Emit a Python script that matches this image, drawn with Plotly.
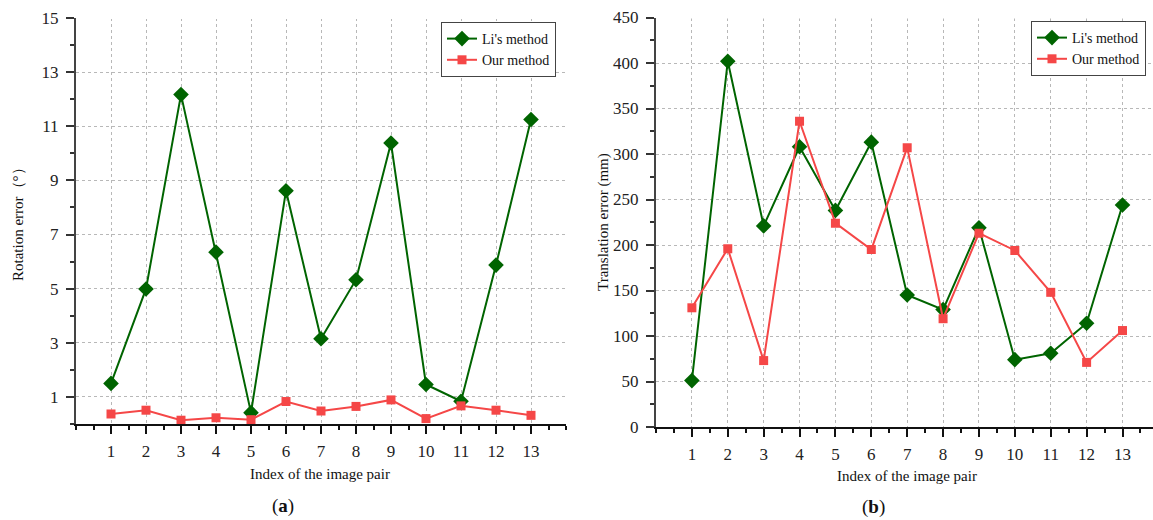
import plotly.graph_objects as go

idx = list(range(1, 14))
li_rot = [1.50, 4.99, 12.17, 6.35, 0.42, 8.62, 3.15, 5.33, 10.38, 1.46, 0.84, 5.87, 11.25]
our_rot = [0.37, 0.51, 0.14, 0.23, 0.16, 0.83, 0.48, 0.65, 0.89, 0.20, 0.67, 0.51, 0.32]
li_trans = [51, 402, 221, 308, 238, 313, 145, 129, 219, 74, 81, 114, 244]
our_trans = [131, 196, 73, 336, 224, 195, 307, 119, 213, 194, 148, 71, 106]
names = ["Li's method", "Our method"]

GREEN = "#006400"
RED = "#f54747"
FONT = "Liberation Serif"
W, H = 1153, 520

def px_x(p):
    return p / W

def px_y(p):
    return 1 - p / H

fig = go.Figure()
fig.add_trace(go.Scatter(x=idx, y=li_rot, name=names[0], mode="lines+markers",
                         line=dict(color=GREEN, width=2),
                         marker=dict(symbol="diamond", size=12, color=GREEN),
                         xaxis="x", yaxis="y", legend="legend"))
fig.add_trace(go.Scatter(x=idx, y=our_rot, name=names[1], mode="lines+markers",
                         line=dict(color=RED, width=2),
                         marker=dict(symbol="square", size=9, color=RED),
                         xaxis="x", yaxis="y", legend="legend"))
fig.add_trace(go.Scatter(x=idx, y=li_trans, name=names[0], mode="lines+markers",
                         line=dict(color=GREEN, width=2),
                         marker=dict(symbol="diamond", size=12, color=GREEN),
                         xaxis="x2", yaxis="y2", legend="legend2"))
fig.add_trace(go.Scatter(x=idx, y=our_trans, name=names[1], mode="lines+markers",
                         line=dict(color=RED, width=2),
                         marker=dict(symbol="square", size=9, color=RED),
                         xaxis="x2", yaxis="y2", legend="legend2"))

grid = dict(showgrid=True, gridcolor="#b8b8b8", gridwidth=1, griddash="dot")
xcommon = dict(tickvals=idx, ticks="outside", ticklen=8, tickwidth=1.5, tickcolor="#111",
               showline=True, linecolor="#111", linewidth=2, zeroline=False,
               ticklabelstandoff=3, automargin=False,
               minor=dict(dtick=0.5, tick0=0, ticks="outside", ticklen=4, tickcolor="#111", tickwidth=1.5, showgrid=False),
               tickfont=dict(family=FONT, size=17, color="#222"), **grid)
ycommon = dict(ticks="outside", ticklen=8, tickwidth=1.5, tickcolor="#333",
               showline=True, linecolor="#444", linewidth=2, zeroline=False,
               ticklabelstandoff=4, automargin=False,
               tickfont=dict(family=FONT, size=17, color="#222"), **grid)

fig.update_layout(
    width=W, height=H,
    margin=dict(l=0, r=0, t=0, b=0, pad=0, autoexpand=False),
    paper_bgcolor="white", plot_bgcolor="white",
    font=dict(family=FONT, size=14, color="#111"),
    xaxis=dict(domain=[px_x(76), px_x(566)], range=[0, 14], anchor="y", **xcommon),
    yaxis=dict(domain=[px_y(424), px_y(18)], range=[0, 15], tickvals=list(range(1, 16, 2)), anchor="x",
               minor=dict(dtick=1, tick0=0, ticks="outside", ticklen=4, tickcolor="#333", tickwidth=1.5, showgrid=False),
               **ycommon),
    xaxis2=dict(domain=[px_x(656), 1.0], range=[0, 13.85], anchor="y2", **xcommon),
    yaxis2=dict(domain=[px_y(427), px_y(17.5)], range=[0, 450], tickvals=list(range(0, 451, 50)), anchor="x2",
                minor=dict(dtick=25, tick0=0, ticks="outside", ticklen=4, tickcolor="#333", tickwidth=1.5, showgrid=False),
                **ycommon),
    legend=dict(x=px_x(441), xanchor="left", y=px_y(22), yanchor="top",
                bgcolor="white", bordercolor="#444", borderwidth=1,
                font=dict(family=FONT, size=14, color="#111"),
                tracegroupgap=0, itemwidth=30),
    legend2=dict(x=px_x(1031), xanchor="left", y=px_y(21), yanchor="top",
                 bgcolor="white", bordercolor="#444", borderwidth=1,
                 font=dict(family=FONT, size=14, color="#111"),
                 tracegroupgap=0, itemwidth=30),
    showlegend=True,
)

# cover the gridline on each panel's top edge (the reference has none there)
for xr, yr in (("x", "y"), ("x2", "y2")):
    fig.add_shape(type="line", xref=f"{xr} domain", yref=f"{yr} domain",
                  x0=0.01, x1=1, y0=1, y1=1,
                  line=dict(color="white", width=2))

ann = [
    dict(text="Index of the image pair", x=px_x(320), y=px_y(474), font=dict(size=15)),
    dict(text="Index of the image pair", x=px_x(907), y=px_y(476), font=dict(size=15)),
    dict(text="Rotation error（°）", x=px_x(18), y=px_y(221), textangle=-90, font=dict(size=15)),
    dict(text="Translation error (mm)", x=px_x(603), y=px_y(222), textangle=-90, font=dict(size=15)),
    dict(text="(<b>a</b>)", x=px_x(283), y=px_y(506), font=dict(size=19)),
    dict(text="(<b>b</b>)", x=px_x(873), y=px_y(507), font=dict(size=19)),
]
for a in ann:
    fig.add_annotation(xref="paper", yref="paper", showarrow=False,
                       xanchor="center", yanchor="middle", **a)

fig.write_html("out.html", config={"displayModeBar": False},
               post_script="document.body.style.margin='0';document.body.style.overflow='hidden';")
